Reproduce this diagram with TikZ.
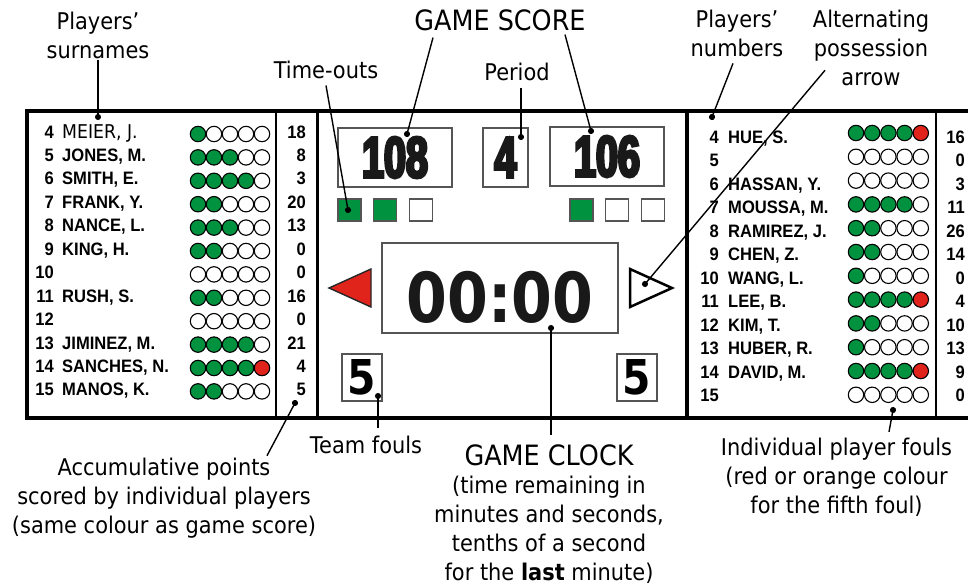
\documentclass[tikz,border=0pt]{standalone}
\usepackage{fontspec}
\setmainfont{DejaVu Sans}[FakeStretch=0.91]
\newfontfamily\boardfont{Liberation Sans}[FakeStretch=0.92]
\newfontfamily\scorefont{Liberation Sans Bold}[FakeStretch=0.68,FakeBold=5]
\newfontfamily\clockfont{DejaVu Sans Bold}[FakeStretch=0.85]
\usepackage{tikz}
\usetikzlibrary{arrows.meta,positioning,calc}
\definecolor{foulgreen}{RGB}{0,146,63}
\definecolor{foulred}{RGB}{224,35,27}
\definecolor{boxgrey}{RGB}{85,85,85}
\newcommand{\lightname}[1]{{\normalfont\fontsize{19}{20}\selectfont #1}}

\begin{document}
\begin{tikzpicture}[x=1pt, y=-1pt,
  frame/.style={line width=3.3pt},
  divider/.style={line width=1.8pt},
  dispbox/.style={draw=boxgrey, line width=1.2pt, inner sep=0pt},
  timeout/.style={draw=boxgrey, line width=1.2pt, minimum width=23pt, minimum height=22pt, inner sep=0pt},
  foul/.style={circle, draw, line width=1.1pt, minimum size=15.4pt, inner sep=0pt},
  rowtext/.style={font=\boardfont\bfseries\fontsize{18}{20}\selectfont, inner sep=0pt},
  lbl/.style={font=\fontsize{23}{29}\selectfont, align=center, inner sep=1pt},
  biglbl/.style={font=\fontsize{28}{32}\selectfont, inner sep=1pt},
  leader/.style={line width=1.4pt, shorten >=-3pt, -{Circle[length=6pt]}},
  scoredigits/.style={font=\scorefont\fontsize{58}{58}\selectfont, text=black!90},
  clockdigits/.style={font=\clockfont\fontsize{69}{69}\selectfont, inner sep=0pt, text=black!90}]
  \fill[white] (0,0) rectangle (968,586);
  \useasboundingbox (0,0) rectangle (968,586);

  % board frame
  \draw[frame] (968,111) -| (27,418) -- (968,418);
  \draw[divider] (276,111) -- (276,418);
  \draw[frame] (317.5,111) -- (317.5,418);
  \draw[frame] (687,111) -- (687,418);
  \draw[divider] (936,111) -- (936,418);

  % home team
  \foreach \pno/\pname/\nf/\pts [count=\i from 0] in {4/{\lightname{MEIER, J.}}/1/18,
      5/{JONES, M.}/3/8, 6/{SMITH, E.}/4/3, 7/{FRANK, Y.}/2/20, 8/{NANCE, L.}/3/13,
      9/{KING, H.}/2/0, 10/{}/0/0, 11/{RUSH, S.}/2/16, 12/{}/0/0,
      13/{JIMINEZ, M.}/4/21, 14/{SANCHES, N.}/5/4, 15/{MANOS, K.}/2/5}{
    \node (Lnum\i) [rowtext, anchor=base east] at (54, 138+23.45*\i) {\pno};
    \node (Lname\i) [rowtext, anchor=base west] at (62, 138+23.45*\i) {\pname};
    \node (Lpts\i) [rowtext, anchor=base east] at (306, 138+23.45*\i) {\pts};
    \foreach \j in {1,...,5}{
      \ifnum\j>\nf \def\fc{white}\else\ifnum\j=5 \def\fc{foulred}\else\def\fc{foulgreen}\fi\fi
      \node (Lfoul\i-\j) [foul, fill=\fc] at (182+16*\j, 134+23.4*\i) {};
    }
  }

  % guest team
  \foreach \pno/\pname/\nf/\pts [count=\i from 0] in {4/{HUE, S.}/5/16, 5/{}/0/0,
      6/{HASSAN, Y.}/0/3, 7/{MOUSSA, M.}/4/11, 8/{RAMIREZ, J.}/2/26, 9/{CHEN, Z.}/2/14,
      10/{WANG, L.}/1/0, 11/{LEE, B.}/5/4, 12/{KIM, T.}/2/10, 13/{HUBER, R.}/1/13,
      14/{DAVID, M.}/5/9, 15/{}/0/0}{
    \node (Rnum\i) [rowtext, anchor=base east] at (719, 143.5+23.45*\i) {\pno};
    \node (Rname\i) [rowtext, anchor=base west] at (728, 143.5+23.45*\i) {\pname};
    \node (Rpts\i) [rowtext, anchor=base east] at (965, 143.5+23.45*\i) {\pts};
    \foreach \j in {1,...,5}{
      \ifnum\j>\nf \def\fc{white}\else\ifnum\j=5 \def\fc{foulred}\else\def\fc{foulgreen}\fi\fi
      \node (Rfoul\i-\j) [foul, fill=\fc] at (839.8+16.2*\j, 133+23.8*\i) {};
    }
  }

  % centre displays
  \node (scoreA) [dispbox, scoredigits, minimum width=114pt, minimum height=59pt] at (395,157.5) {108};
  \node (periodbox) [dispbox, scoredigits, minimum width=45pt, minimum height=59pt] at (505.5,157.5) {4};
  \node (scoreB) [dispbox, scoredigits, minimum width=114pt, minimum height=59pt] at (607,156.5) {106};
  \node (toA1) [timeout, fill=foulgreen] at (349.5,210) {};
  \node (toA2) [timeout, fill=foulgreen, right=11.5pt of toA1] {};
  \node (toA3) [timeout, right=11.5pt of toA2] {};
  \node (toB1) [timeout, fill=foulgreen] at (581.5,210) {};
  \node (toB2) [timeout, right=11.5pt of toB1] {};
  \node (toB3) [timeout, right=11.5pt of toB2] {};
  \node (clock) [dispbox, minimum width=236pt, minimum height=90pt] at (500,288) {};
  \node (clocktime) [clockdigits] at (500,297) {00:00};
  \draw[fill=foulred, draw=black!85, line width=1.4pt] (329,288) -- (371,269) -- (371,307) -- cycle;
  \draw[fill=white, line width=2.5pt] (672,288) -- (630,269) -- (630,307) -- cycle;
  \node (foulsA) [dispbox, minimum width=40pt, minimum height=47pt,
    font=\clockfont\fontsize{48}{48}\selectfont] at (362,377.5) {5};
  \node (foulsB) [dispbox, minimum width=40pt, minimum height=47pt,
    font=\clockfont\fontsize{48}{48}\selectfont] at (637,377.5) {5};

  % points the captions refer to
  \coordinate (surnamesdot) at (98,117);
  \coordinate (timeoutsdot) at (348,210);
  \coordinate (scoreAdot) at (407,134);
  \coordinate (scoreBdot) at (591,131);
  \coordinate (perioddot) at (521,137);
  \coordinate (numbersdot) at (712,117);
  \coordinate (possessiondot) at (645,284);
  \coordinate (pointsdot) at (295,403);
  \coordinate (teamfoulsdot) at (378,396);
  \coordinate (clockdot) at (551,328);
  \coordinate (playerfoulsdot) at (893,410);

  % captions
  \node (surnames) [lbl] at (98,35.3) {Players’\\surnames};
  \node (timeouts) [lbl, anchor=base] at (326,78) {Time-outs};
  \node (gamescore) [biglbl, anchor=base] at (500,31) {GAME SCORE};
  \node (periodlbl) [lbl, anchor=base] at (517,80) {Period};
  \node (numbers) [lbl] at (737,33.8) {Players’\\numbers};
  \node (possession) [lbl] at (871,48.3) {Alternating\\possession\\arrow};
  \node (accum) [lbl] at (164,498) {Accumulative points\\scored by individual players\\(same colour as game score)};
  \node (teamfouls) [lbl, anchor=base] at (366,453) {Team fouls};
  \node (clocklbl) [biglbl, anchor=base] at (549,465) {GAME CLOCK};
  \node (clocknote) [lbl, below=8.5pt of clocklbl] {(time remaining in\\minutes and seconds,\\tenths of a second\\for the \textbf{last} minute)};
  \node (playerfouls) [lbl] at (836.5,476.8) {Individual player fouls\\(red or orange colour\\for the fifth foul)};

  \draw[leader] (surnames.south) -- (surnamesdot);
  \draw[leader] ($(timeouts.south)+(0,6)$) -- (timeoutsdot);
  \draw[leader] ($(gamescore.south)+(-67,5)$) -- (scoreAdot);
  \draw[leader] ($(gamescore.south)+(65,2)$) -- (scoreBdot);
  \draw[leader] ($(periodlbl.south)+(4,6)$) -- (perioddot);
  \draw[leader] ($(numbers.south)+(-4,5)$) -- (numbersdot);
  \draw[leader] ($(possession.center)+(-46,22)$) -- (possessiondot);
  \draw[leader] ($(accum.north)+(103,-1)$) -- (pointsdot);
  \draw[leader] ($(teamfouls.north)+(12,-6)$) -- (teamfoulsdot);
  \draw[leader] ($(clocklbl.north)+(2,-8)$) -- (clockdot);
  \draw[leader] ($(playerfouls.north)+(52.5,-4.5)$) -- (playerfoulsdot);
\end{tikzpicture}
\end{document}
